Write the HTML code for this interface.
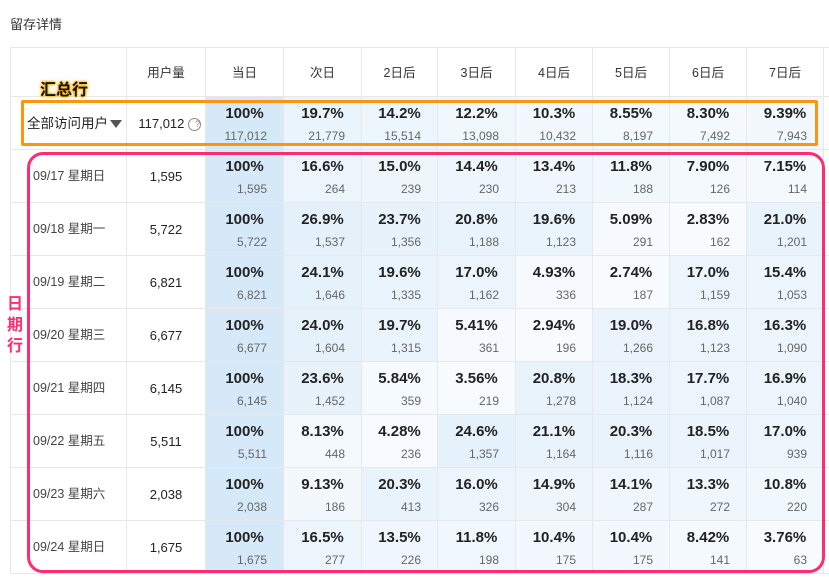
<!DOCTYPE html>
<html><head><meta charset="utf-8">
<style>
body{margin:0;width:829px;height:578px;background:#fff;position:relative;overflow:hidden;font-family:"Liberation Sans","Noto Sans CJK SC",sans-serif;color:#333}
.t{position:absolute;left:10px;top:14px;font-size:13px;color:#333}
#g{position:absolute;left:0;top:0}
.c{position:absolute;box-sizing:border-box;border-right:1px solid #e8e8e8;border-bottom:1px solid #e8e8e8;text-align:center}
.p{position:absolute;left:0;right:0;top:8px;font-size:15px;font-weight:bold;color:#222}
.n{position:absolute;right:16px;top:32px;font-size:12px;color:#666}
.h{font-size:12.5px;color:#333;line-height:50px}
.lab{font-size:12.5px;color:#444;text-align:left;padding-left:22px;line-height:53px}
.u{font-size:13px;color:#222;line-height:53px}
</style></head><body>
<div class="t">留存详情</div>
<div id="g"></div>
<div style="position:absolute;left:21px;top:100px;width:797px;height:46px;border:3px solid #ff9410;box-sizing:border-box;border-radius:2px"></div>
<div style="position:absolute;left:27px;top:152px;width:798px;height:421px;border:3px solid #ff2d6f;box-sizing:border-box;border-radius:16px"></div>
<div style="position:absolute;left:40px;top:76px;font-size:16px;font-weight:bold;color:#111;text-shadow:0 0 3px #ffb300,0 0 3px #ffb300,0 0 2px #ffb300">汇总行</div>
<div style="position:absolute;left:7px;top:294px;font-size:16px;line-height:21px;color:#ff2d6f;width:18px;font-weight:bold;text-shadow:0 0 2px #fff,0 0 2px #fff">日<br>期<br>行</div>
<script>
var cols=[10,127,206,284,362,438,516,593,670,747,824,840];
var rows=[47,97,150,203,256,309,362,415,468,521,574,600];
var hd=["","用户量","当日","次日","2日后","3日后","4日后","5日后","6日后","7日后",""];
var data=[
["全部访问用户","117,012",[100,"117,012"],[19.7,"21,779"],[14.2,"15,514"],[12.2,"13,098"],[10.3,"10,432"],[8.55,"8,197"],[8.30,"7,492"],[9.39,"7,943"]],
["09/17 星期日","1,595",[100,"1,595"],[16.6,"264"],[15.0,"239"],[14.4,"230"],[13.4,"213"],[11.8,"188"],[7.90,"126"],[7.15,"114"]],
["09/18 星期一","5,722",[100,"5,722"],[26.9,"1,537"],[23.7,"1,356"],[20.8,"1,188"],[19.6,"1,123"],[5.09,"291"],[2.83,"162"],[21.0,"1,201"]],
["09/19 星期二","6,821",[100,"6,821"],[24.1,"1,646"],[19.6,"1,335"],[17.0,"1,162"],[4.93,"336"],[2.74,"187"],[17.0,"1,159"],[15.4,"1,053"]],
["09/20 星期三","6,677",[100,"6,677"],[24.0,"1,604"],[19.7,"1,315"],[5.41,"361"],[2.94,"196"],[19.0,"1,266"],[16.8,"1,123"],[16.3,"1,090"]],
["09/21 星期四","6,145",[100,"6,145"],[23.6,"1,452"],[5.84,"359"],[3.56,"219"],[20.8,"1,278"],[18.3,"1,124"],[17.7,"1,087"],[16.9,"1,040"]],
["09/22 星期五","5,511",[100,"5,511"],[8.13,"448"],[4.28,"236"],[24.6,"1,357"],[21.1,"1,164"],[20.3,"1,116"],[18.5,"1,017"],[17.0,"939"]],
["09/23 星期六","2,038",[100,"2,038"],[9.13,"186"],[20.3,"413"],[16.0,"326"],[14.9,"304"],[14.1,"287"],[13.3,"272"],[10.8,"220"]],
["09/24 星期日","1,675",[100,"1,675"],[16.5,"277"],[13.5,"226"],[11.8,"198"],[10.4,"175"],[10.4,"175"],[8.42,"141"],[3.76,"63"]]];
function col(v){var t=v>=100?1:Math.min(0.7,0.12+v/50);var r=Math.round(255-41*t),g=Math.round(255-22*t),b=Math.round(255-6*t);return "rgb("+r+","+g+","+b+")";}
function fmt(v){if(v>=100)return "100%";if(v>=10)return v.toFixed(1)+"%";return v.toFixed(2)+"%";}
var h="";
for(var r=0;r<10;r++){for(var c=0;c<11;c++){
 var x=cols[c],w=cols[c+1]-x,y=rows[r],hh=rows[r+1]-y;
 var st="left:"+x+"px;top:"+y+"px;width:"+w+"px;height:"+hh+"px;";
 if(c==0)st+="border-left:1px solid #e8e8e8;";
 if(r==0)st+="border-top:1px solid #e8e8e8;";
 var inner="",cls="c";
 if(r==0){cls+=" h";inner=hd[c];}
 else{var d=data[r-1];
  if(c==0){cls+=" lab";inner=d[0];if(r==1){st+="padding-left:16px;color:#222;font-size:13.5px;";inner+='<span style="display:inline-block;width:0;height:0;border-left:6px solid transparent;border-right:6px solid transparent;border-top:8px solid #555;margin-left:2px;vertical-align:middle"></span>';}}
  else if(c==1){cls+=" u";inner=d[1]+(r==1?' <span style="display:inline-block;width:11px;height:11px;border:1px solid #888;border-radius:50%;font-size:9px;line-height:11px;color:#888;vertical-align:middle">?</span>':'');if(r==1)st+="text-align:right;padding-right:4px;";}
  else if(c<10){var v=d[c][0];st+="background:"+col(v)+";";inner='<div class="p">'+fmt(v)+'</div><div class="n">'+d[c][1]+'</div>';}
 }
 h+='<div class="'+cls+'" style="'+st+'">'+inner+'</div>';
}}
document.getElementById("g").innerHTML=h;
</script>
</body></html>
